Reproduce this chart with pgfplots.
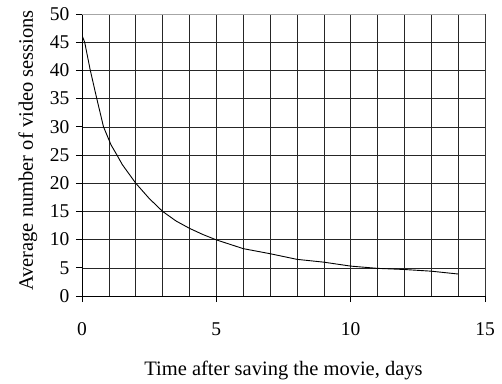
\documentclass[border=0pt]{standalone}
\usepackage{pgfplots}
\pgfplotsset{compat=1.18}
\usepackage{fontspec}
\setmainfont{Liberation Serif}
\begin{document}
\begin{tikzpicture}[x=1pt,y=1pt]
\path[use as bounding box] (0,0) rectangle (502,383);
\begin{axis}[
  at={(82pt,87pt)}, anchor=south west,
  scale only axis, width=403pt, height=282pt,
  xmin=0, xmax=15, ymin=0, ymax=50,
  xtick={0,5,10,15}, ytick={0,5,...,50},
  minor xtick={1,2,3,4,6,7,8,9,11,12,13,14},
  grid=both,
  major grid style={black!85, line width=0.6pt},
  minor grid style={black!85, line width=0.6pt},
  axis lines*=left,
  axis line style={black, line width=0.8pt},
  tick align=outside, major tick length=6pt, minor tick length=0pt,
  tick style={black, line width=0.8pt},
  /pgf/number format/assume math mode=true,
  tick label style={font=\fontsize{19.5}{22}\selectfont},
  xticklabel style={yshift=-17pt},
  yticklabel style={xshift=-3pt},
  xlabel={Time after saving the movie, days},
  ylabel={Average number of video sessions},
  label style={font=\fontsize{20.5}{24}\selectfont},
  xlabel style={at={(axis description cs:0.5,0)}, anchor=base, yshift=-79pt},
  ylabel style={at={(axis description cs:-0.1216,0.516)}, anchor=base},
]
\addplot[black, line width=0.9pt] coordinates {
(0,46.2) (0.1,45) (0.3,40.2) (0.55,35) (0.8,30) (1.08,26.8) (1.3,25) (1.5,23.3)
(2,20) (2.5,17.3) (3,15) (3.5,13.3) (4,12) (4.5,10.9) (5,9.95) (6,8.4) (7,7.5)
(8,6.5) (9,6.0) (10,5.3) (11,4.9) (12,4.7) (13,4.4) (14,3.9)
};
\draw[gray!70, line width=0.8pt] (rel axis cs:0,1) -- (rel axis cs:1,1) -- (rel axis cs:1,0);
\end{axis}
\end{tikzpicture}
\end{document}
